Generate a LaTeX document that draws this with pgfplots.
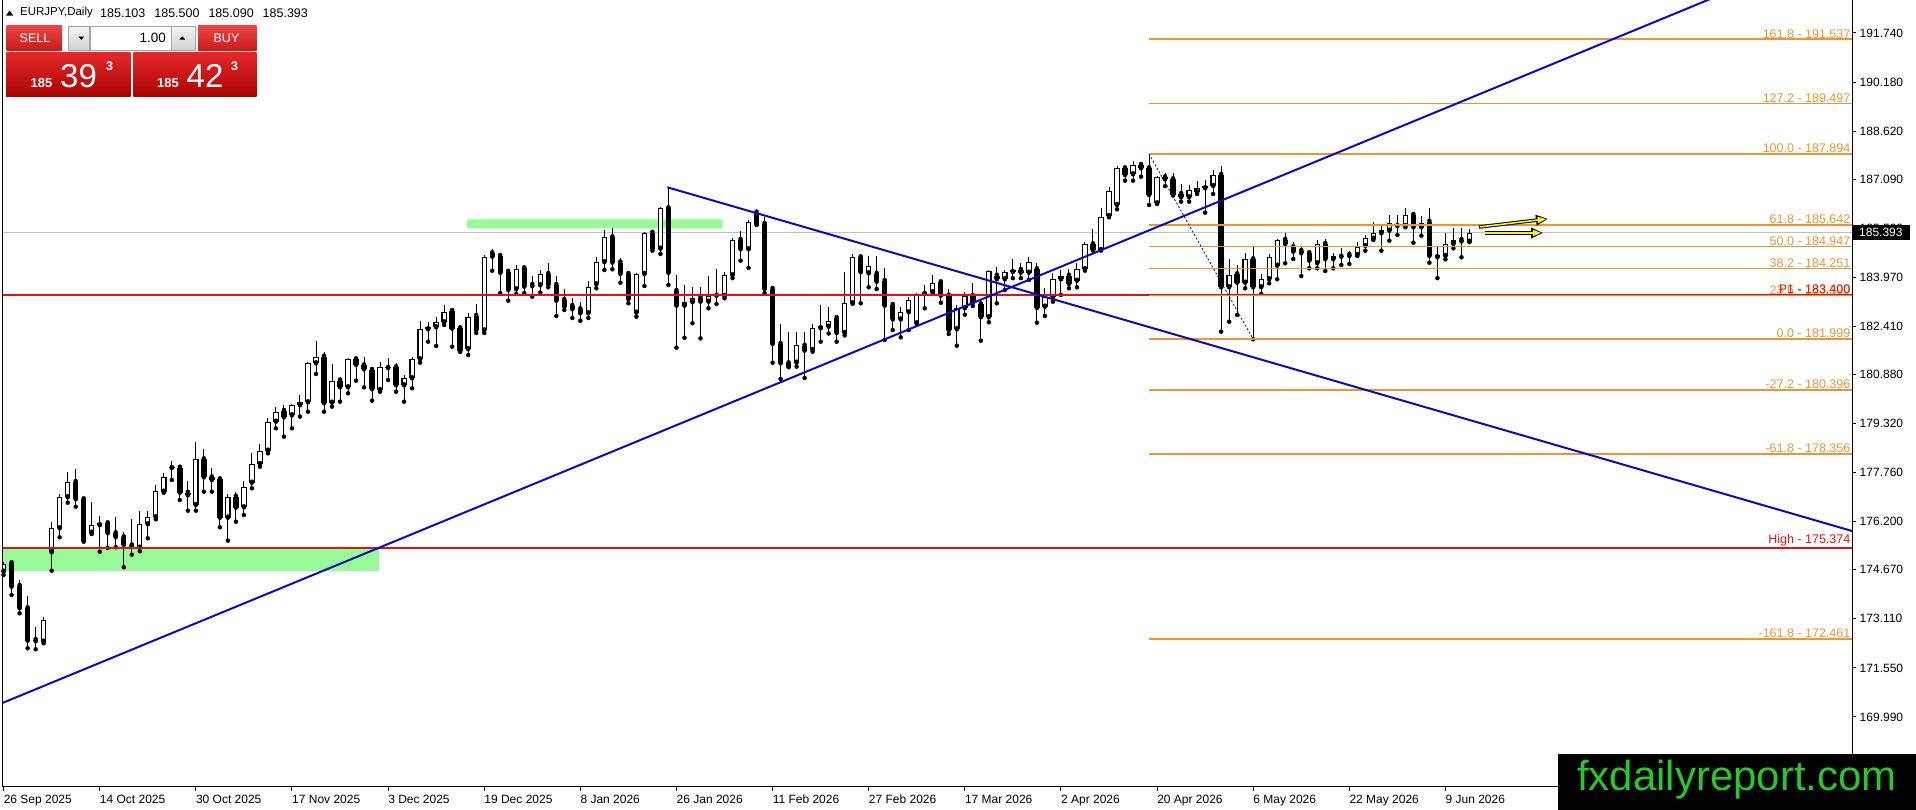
\documentclass[border=0pt]{standalone}
\usepackage{fontspec}
\setmainfont{Liberation Sans}
\usepackage{pgfplots}
\usepackage{pgfplotstable}
\pgfplotsset{compat=1.18}
\usetikzlibrary{arrows.meta}

\definecolor{fibor}{RGB}{236,150,45}
\definecolor{fibtxt}{RGB}{232,150,60}
\definecolor{mtred}{RGB}{220,20,20}
\definecolor{mtblue}{RGB}{10,10,195}
\definecolor{pgreen}{RGB}{152,251,152}
\definecolor{pricegray}{RGB}{192,192,192}
\definecolor{wmgreen}{RGB}{40,200,40}
\definecolor{redtop}{RGB}{228,40,40}
\definecolor{redbot}{RGB}{170,3,3}
\definecolor{redtopb}{RGB}{235,70,70}
\definecolor{redbotb}{RGB}{200,25,25}

\pgfplotstableread{
i o h l c
0 174.609 174.927 174.504 174.854
1 174.876 174.927 173.868 174.132
2 174.154 174.345 173.286 173.445
3 173.445 173.836 172.173 172.415
4 172.437 172.860 172.141 172.396
5 172.383 173.178 172.333 173.073
6 175.226 176.199 174.641 175.989
7 175.989 177.080 175.703 176.975
8 176.975 177.789 176.803 177.461
9 177.461 177.865 176.676 176.911
10 176.911 176.943 175.563 175.595
11 175.849 176.835 175.808 176.084
12 176.084 176.380 175.245 176.148
13 176.148 176.231 175.363 175.830
14 175.830 176.358 175.385 175.703
15 175.703 175.881 174.749 175.458
16 175.442 176.276 175.150 175.404
17 175.372 176.549 175.258 176.116
18 176.116 176.549 175.671 176.339
19 176.339 177.366 176.276 177.175
20 177.153 177.757 177.121 177.630
21 177.907 178.139 177.525 177.939
22 177.917 177.930 176.889 177.121
23 177.121 177.503 176.549 177.039
24 176.730 178.743 176.549 178.183
25 178.183 178.501 177.153 177.608
26 177.608 177.894 177.153 177.525
27 177.546 177.608 176.021 176.326
28 176.326 177.080 175.595 176.994
29 176.994 177.153 176.199 176.644
30 176.657 177.503 176.412 177.312
31 177.439 178.374 177.261 178.032
32 178.032 178.670 177.946 178.457
33 178.457 179.497 178.374 179.379
34 179.379 179.856 179.169 179.697
35 179.719 179.901 178.902 179.519
36 179.582 179.942 179.169 179.901
37 179.901 180.228 179.538 179.996
38 179.996 181.287 179.697 181.236
39 181.236 181.945 180.896 181.446
40 181.446 181.586 179.697 179.964
41 179.983 181.214 179.856 180.683
42 180.683 180.810 180.015 180.472
43 180.472 181.395 180.281 181.363
44 181.363 181.400 180.683 181.181
45 181.172 181.446 180.472 181.045
46 181.023 181.030 180.047 180.409
47 180.387 181.287 180.333 181.109
48 181.086 181.395 180.705 181.118
49 181.109 181.236 180.333 180.536
50 180.536 180.861 180.015 180.759
51 180.759 181.446 180.441 181.363
52 181.363 182.591 181.255 182.317
53 182.317 182.559 181.923 182.381
54 182.381 182.699 181.786 182.540
55 182.540 183.090 182.454 182.857
56 182.899 182.931 181.764 182.336
57 182.349 182.422 181.600 181.638
58 181.683 182.826 181.499 182.719
59 182.741 183.122 182.199 182.282
60 182.282 184.680 182.199 184.607
61 184.734 184.861 184.181 184.626
62 184.649 184.660 183.468 184.114
63 184.146 184.160 183.227 183.567
64 183.589 184.362 183.440 184.223
65 184.255 184.362 183.468 183.672
66 183.726 184.022 183.354 183.684
67 183.716 184.203 183.487 184.076
68 184.076 184.416 183.653 183.726
69 183.726 184.013 182.740 183.227
70 183.249 183.589 182.931 183.036
71 183.058 183.303 182.676 182.953
72 182.953 183.195 182.591 182.826
73 182.826 183.853 182.676 183.672
74 183.749 184.626 183.621 184.452
75 184.452 185.475 184.203 185.243
76 185.243 185.529 184.226 184.439
77 184.439 184.579 183.799 184.076
78 184.076 184.118 183.144 183.271
79 182.846 184.118 182.719 184.076
80 184.076 185.421 183.694 185.389
81 185.389 185.453 184.817 184.881
82 184.881 186.216 184.712 186.165
83 186.165 186.833 183.726 184.114
84 183.535 184.035 181.733 183.068
85 183.068 183.726 182.048 183.176
86 183.176 183.672 182.508 183.322
87 183.322 183.672 182.029 183.195
88 183.195 184.013 182.985 183.376
89 183.386 184.235 183.122 183.408
90 183.376 184.146 183.303 184.035
91 184.035 185.209 183.944 185.157
92 185.157 185.453 184.499 184.861
93 184.861 185.793 184.270 185.739
94 186.026 186.133 185.634 185.666
95 185.666 185.898 183.468 183.599
96 183.599 183.621 181.255 181.850
97 181.850 182.486 180.737 181.236
98 181.236 182.218 181.109 181.128
99 181.255 182.231 181.128 181.828
100 181.796 182.218 180.769 181.638
101 181.659 182.486 181.605 182.349
102 182.349 183.090 181.923 182.422
103 182.400 183.017 182.184 182.591
104 182.676 182.781 181.923 182.199
105 182.199 184.146 182.123 183.144
106 183.144 184.712 183.130 184.607
107 184.607 184.649 183.144 184.130
108 184.098 184.649 183.653 184.340
109 184.076 184.649 183.599 183.831
110 183.853 184.279 181.977 183.068
111 183.090 183.163 182.295 182.631
112 182.631 183.036 182.061 182.857
113 182.857 183.354 182.295 183.249
114 182.508 183.468 182.486 183.408
115 183.440 183.726 182.985 183.494
116 183.494 184.044 183.468 183.780
117 183.812 183.863 183.163 183.386
118 183.386 183.589 182.168 182.282
119 182.317 183.090 181.796 182.985
120 182.985 183.494 182.781 183.376
121 183.376 183.780 183.058 183.163
122 183.112 183.195 181.955 182.699
123 182.699 184.203 182.540 184.181
124 184.022 184.289 183.144 183.907
125 183.907 184.203 183.567 184.130
126 184.140 184.543 183.944 184.203
127 184.203 184.416 183.944 184.117
128 184.117 184.607 183.885 184.448
129 184.226 184.416 182.527 182.999
130 183.036 183.621 182.740 183.332
131 183.332 184.117 183.195 183.907
132 183.907 184.203 183.408 184.022
133 184.022 184.226 183.621 183.758
134 183.863 184.416 183.653 184.226
135 184.226 185.104 184.181 185.021
136 185.021 185.498 184.817 184.839
137 184.839 186.165 184.817 185.898
138 185.920 186.833 185.879 186.725
139 186.270 187.510 186.133 187.436
140 187.436 187.488 187.043 187.224
141 187.246 187.679 187.043 187.542
142 187.542 187.615 187.169 187.436
143 187.436 187.894 186.270 186.588
144 186.324 187.192 186.302 187.150
145 187.150 187.278 186.872 187.087
146 187.087 187.278 186.570 186.588
147 186.620 186.938 186.375 186.515
148 186.515 186.906 186.375 186.747
149 186.674 187.043 186.620 186.801
150 186.801 187.065 186.026 186.874
151 186.874 187.383 186.620 187.224
152 187.224 187.510 182.241 183.653
153 183.653 184.543 182.559 184.044
154 184.066 184.353 182.772 183.799
155 183.799 184.734 183.621 184.543
156 184.543 184.925 181.999 183.653
157 183.653 184.066 183.440 183.907
158 183.907 184.712 183.780 184.607
159 184.340 185.196 183.907 185.157
160 185.157 185.386 184.416 185.030
161 184.925 185.104 184.553 184.785
162 184.807 184.966 184.013 184.734
163 184.734 184.785 184.257 184.499
164 184.416 185.157 184.257 185.030
165 185.030 185.179 184.171 184.543
166 184.543 184.734 184.257 184.649
167 184.626 184.893 184.362 184.649
168 184.680 184.817 184.394 184.649
169 184.680 185.104 184.649 184.925
170 184.966 185.316 184.817 185.211
171 185.198 185.739 185.157 185.370
172 185.370 185.634 184.817 185.475
173 185.453 185.952 185.135 185.688
174 185.602 185.952 185.316 185.634
175 185.602 186.165 185.561 185.952
176 185.952 185.984 185.071 185.561
177 185.561 185.920 185.294 185.707
178 185.739 186.165 184.435 184.649
179 184.607 184.944 183.944 184.680
180 184.649 185.389 184.543 185.030
181 185.030 185.529 184.893 185.157
182 185.157 185.529 184.607 185.109
183 185.103 185.500 185.090 185.393
}\candles

\begin{document}
\begin{tikzpicture}
\begin{axis}[
  scale only axis, width=1850pt, height=787pt,
  xmin=-0.2, xmax=230.76, ymin=167.762, ymax=192.789,
  axis x line*=bottom, axis y line*=right,
  axis line style={-, line width=1pt, black},
  tick align=outside, major tick length=4pt,
  tick style={black, line width=1pt},
  xtick={0,12,...,180},
  xticklabels={26 Sep 2025,14 Oct 2025,30 Oct 2025,17 Nov 2025,3 Dec 2025,19 Dec 2025,8 Jan 2026,26 Jan 2026,11 Feb 2026,27 Feb 2026,17 Mar 2026,2 Apr 2026,20 Apr 2026,6 May 2026,22 May 2026,9 Jun 2026},
  ytick={191.74,190.18,188.62,187.09,185.53,183.97,182.41,180.88,179.32,177.76,176.2,174.67,173.11,171.55,169.99},
  yticklabels={191.740,190.180,188.620,187.090,185.530,183.970,182.410,180.880,179.320,177.760,176.200,174.670,173.110,171.550,169.990},
  ticklabel style={font=\fontsize{12}{14}\selectfont},
  xticklabel style={anchor=north west, inner sep=0pt, yshift=-4pt},
  yticklabel style={anchor=west, inner sep=0pt, xshift=3.5pt},
  clip mode=individual,
]
% zones
\addplot[forget plot, fill=pgreen, draw=none] coordinates {(-0.2,175.37) (46.87,175.37) (46.87,174.63) (-0.2,174.63) (-0.2,175.37)};
\addplot[forget plot, fill=pgreen, draw=none] coordinates {(57.85,185.815) (89.77,185.815) (89.77,185.529) (57.85,185.529) (57.85,185.815)};
% current price line
\addplot[forget plot, pricegray, line width=1pt] coordinates {(-0.2,185.393) (230.76,185.393)};
% wicks
\addplot[forget plot, only marks, mark=none,
  error bars/.cd, y dir=plus, y explicit, error mark=none,
  error bar style={black, line width=1pt, line cap=butt, solid}]
  table[x=i, y=l, y error plus expr={\thisrow{h}-\thisrow{l}}] {\candles};
% bodies
\addplot[forget plot, only marks, mark=none,
  error bars/.cd, y dir=plus, y explicit, error mark=none,
  error bar style={black, line width=5.4pt, line cap=butt, solid}]
  table[x=i, y expr={min(\thisrow{o},\thisrow{c})}, y error plus expr={max(abs(\thisrow{c}-\thisrow{o}),0.032)}] {\candles};
\addplot[forget plot, only marks, mark=none,
  error bars/.cd, y dir=plus, y explicit, error mark=none,
  error bar style={white, line width=3.2pt, line cap=butt, solid}]
  table[x=i, y expr={\thisrow{o}+0.0318}, y error plus expr={max(\thisrow{c}-\thisrow{o}-0.0636,0)}] {\candles};
% red levels
\addplot[forget plot, mtred, line width=2pt] coordinates {(-0.2,183.400) (230.76,183.400)};
\addplot[forget plot, mtred, line width=2pt] coordinates {(-0.2,175.374) (230.76,175.374)};
% fibonacci levels
\pgfplotsinvokeforeach{191.537,189.497,187.894,185.642,184.947,184.251,183.390,181.999,180.396,178.356,172.461}{
  \addplot[forget plot, fibor, line width=1.8pt] coordinates {(143,#1) (230.76,#1)};
}
% trend lines
\addplot[forget plot, mtblue, line width=2pt] coordinates {(-0.449,170.402) (230.76,194.678)};
\addplot[forget plot, mtblue, line width=2pt] coordinates {(82.86,186.833) (230.76,175.903)};
\addplot[forget plot, mtblue!80!black, line width=0.8pt, dash pattern=on 2pt off 2pt] coordinates {(143,187.894) (156,181.999)};
% arrows
\addplot[forget plot, black, line width=3.6pt, -{Triangle[length=12pt,width=10pt]}] coordinates {(184.2,185.570) (192.8,185.830)};
\addplot[forget plot, yellow, line width=1.6pt, -{Triangle[length=8.5pt,width=6pt]}, shorten >=1.8pt] coordinates {(184.3,185.573) (192.8,185.830)};
\addplot[forget plot, black, line width=3.6pt, -{Triangle[length=12pt,width=10pt]}] coordinates {(184.9,185.380) (192.2,185.380)};
\addplot[forget plot, yellow, line width=1.6pt, -{Triangle[length=8.5pt,width=6pt]}, shorten >=1.8pt] coordinates {(185.0,185.380) (192.2,185.380)};
% level labels
\begin{scope}[every node/.style={anchor=south east, inner sep=0pt, xshift=-1.5pt, yshift=1pt, font=\fontsize{12.5}{14}\selectfont}]
\node[text=fibtxt] at (axis cs:230.76,191.537) {161.8 - 191.537};
\node[text=fibtxt] at (axis cs:230.76,189.497) {127.2 - 189.497};
\node[text=fibtxt] at (axis cs:230.76,187.894) {100.0 - 187.894};
\node[text=fibtxt] at (axis cs:230.76,185.642) {61.8 - 185.642};
\node[text=fibtxt] at (axis cs:230.76,184.947) {50.0 - 184.947};
\node[text=fibtxt] at (axis cs:230.76,184.251) {38.2 - 184.251};
\node[text=fibtxt] at (axis cs:230.76,183.390) {23.6 - 183.390};
\node[text=mtred] at (axis cs:230.76,183.400) {P1 - 183.400};
\node[text=fibtxt] at (axis cs:230.76,181.999) {0.0 - 181.999};
\node[text=fibtxt] at (axis cs:230.76,180.396) {-27.2 - 180.396};
\node[text=fibtxt] at (axis cs:230.76,178.356) {-61.8 - 178.356};
\node[text=mtred] at (axis cs:230.76,175.374) {High - 175.374};
\node[text=fibtxt] at (axis cs:230.76,172.461) {-161.8 - 172.461};
\end{scope}
\end{axis}
\pgfresetboundingbox
\begin{scope}[shift={([xshift=-2pt]current axis.north west)}, x=1pt, y=-1pt]
  \path[use as bounding box] (0,0) rectangle (1916,810);
  % left border
  \draw[black, line width=1pt] (2.5,0) -- (2.5,787);
  % header
  \fill[black] (6,15.7) -- (13.3,15.7) -- (9.65,10.5) -- cycle;
  \node[anchor=west, inner sep=0pt, font=\fontsize{11.5}{13}\selectfont] at (20,13) {EURJPY,Daily};
  \node[anchor=west, inner sep=0pt, font=\fontsize{12.5}{14}\selectfont] at (100,13) {185.103\hspace{9pt}185.500\hspace{9pt}185.090\hspace{9pt}185.393};
  % trade panel
  \shade[top color=redtopb, bottom color=redbotb] (6.5,26) rectangle (62,51);
  \shade[top color=redtopb, bottom color=redbotb] (198,26) rectangle (256.5,51);
  \draw[white!85!red, line width=0.6pt] (10,51.5) -- (60,51.5);
  \draw[white!85!red, line width=0.6pt] (200,51.5) -- (254,51.5);
  \shade[top color=white!96!black, bottom color=white!82!black, draw=white!65!black, line width=0.6pt] (68.3,26) rectangle (89.3,50);
  \fill[black] (78.3,36.6) -- (84.3,36.6) -- (81.3,39.8) -- cycle;
  \fill[white, draw=white!65!black, line width=0.6pt] (90,26) rectangle (171,50);
  \shade[top color=white!96!black, bottom color=white!82!black, draw=white!65!black, line width=0.6pt] (171.7,26) rectangle (195,50);
  \fill[black] (179.3,39.6) -- (185.3,39.6) -- (182.3,36.4) -- cycle;
  \node[anchor=east, inner sep=0pt, font=\fontsize{13.5}{15}\selectfont] at (166,38) {1.00};
  \node[text=white, inner sep=0pt, font=\fontsize{12.5}{14}\selectfont] at (35,38.5) {SELL};
  \node[text=white, inner sep=0pt, font=\fontsize{12.5}{14}\selectfont] at (226.5,38.5) {BUY};
  \shade[top color=redtop, bottom color=redbot] (6,53) rectangle (130.7,96.7);
  \shade[top color=redtop, bottom color=redbot] (133.3,53) rectangle (256.7,96.7);
  \node[anchor=base west, inner sep=0pt, text=white, font=\fontsize{13}{14}\selectfont\bfseries] at (30.5,88) {185};
  \node[anchor=base west, inner sep=0pt, text=white, font=\fontsize{33}{34}\selectfont] at (60,87.5) {39};
  \node[anchor=base west, inner sep=0pt, text=white, font=\fontsize{12.5}{13}\selectfont\bfseries] at (106,71) {3};
  \node[anchor=base west, inner sep=0pt, text=white, font=\fontsize{13}{14}\selectfont\bfseries] at (157,88) {185};
  \node[anchor=base west, inner sep=0pt, text=white, font=\fontsize{33}{34}\selectfont] at (186.5,87.5) {42};
  \node[anchor=base west, inner sep=0pt, text=white, font=\fontsize{12.5}{13}\selectfont\bfseries] at (231,71) {3};
  % current price box
  \fill[black] (1853,225) rectangle (1910,240.5);
  \node[anchor=west, inner sep=0pt, text=white, font=\fontsize{12}{14}\selectfont] at (1859,232.7) {185.393};
  % watermark
  \fill[black] (1558,754) rectangle (1916,810);
  \node[anchor=base, inner sep=0pt, text=wmgreen, font=\fontsize{42}{44}\selectfont] at (1737,791) {fxdailyreport.com};
\end{scope}
\end{tikzpicture}
\end{document}
